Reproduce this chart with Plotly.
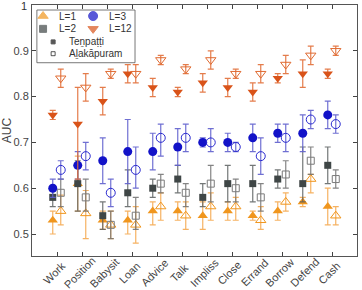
import plotly.graph_objects as go

categories = ["Work", "Position", "Babysit", "Loan", "Advice", "Talk", "Impliss",
              "Close", "Errand", "Borrow", "Defend", "Cash"]

# L=1
l1_t = [0.53, 0.61, 0.53, 0.53, 0.55, 0.55, 0.54, 0.55, 0.54, 0.55, 0.57, 0.56]
l1_t_lo = [0.50, 0.55, 0.51, 0.50, 0.52, 0.53, 0.51, 0.53, 0.53, 0.53, 0.56, 0.52]
l1_t_hi = [0.55, 0.67, 0.55, 0.55, 0.57, 0.57, 0.57, 0.57, 0.55, 0.57, 0.58, 0.60]
l1_a = [0.55, 0.545, 0.52, 0.52, 0.56, 0.54, 0.56, 0.56, 0.53, 0.57, 0.62, 0.54]
l1_a_lo = [0.52, 0.49, 0.49, 0.48, 0.53, 0.51, 0.53, 0.53, 0.51, 0.55, 0.59, 0.52]
l1_a_hi = [0.585, 0.595, 0.55, 0.56, 0.59, 0.57, 0.59, 0.58, 0.56, 0.59, 0.63, 0.56]

# L=2
l2_t = [0.58, 0.61, 0.54, 0.59, 0.60, 0.62, 0.58, 0.61, 0.61, 0.62, 0.61, 0.65]
l2_t_lo = [0.56, 0.55, 0.51, 0.56, 0.58, 0.59, 0.56, 0.57, 0.57, 0.60, 0.57, 0.61]
l2_t_hi = [0.60, 0.66, 0.57, 0.64, 0.62, 0.65, 0.61, 0.65, 0.65, 0.64, 0.69, 0.69]
l2_a = [0.59, 0.58, 0.52, 0.54, 0.61, 0.59, 0.61, 0.60, 0.58, 0.63, 0.66, 0.62]
l2_a_lo = [0.56, 0.55, 0.49, 0.51, 0.59, 0.56, 0.57, 0.57, 0.55, 0.60, 0.63, 0.60]
l2_a_hi = [0.62, 0.62, 0.55, 0.58, 0.63, 0.61, 0.65, 0.62, 0.61, 0.66, 0.69, 0.64]

# L=3
l3_t = [0.60, 0.65, 0.66, 0.68, 0.68, 0.69, 0.70, 0.70, 0.71, 0.72, 0.72, 0.76]
l3_t_lo = [0.58, 0.62, 0.61, 0.61, 0.64, 0.65, 0.69, 0.68, 0.68, 0.70, 0.68, 0.73]
l3_t_hi = [0.62, 0.68, 0.71, 0.75, 0.72, 0.73, 0.71, 0.72, 0.74, 0.74, 0.76, 0.79]
l3_a = [0.64, 0.67, 0.59, 0.64, 0.71, 0.71, 0.70, 0.69, 0.67, 0.71, 0.75, 0.74]
l3_a_lo = [0.62, 0.64, 0.56, 0.60, 0.67, 0.68, 0.68, 0.68, 0.63, 0.68, 0.73, 0.72]
l3_a_hi = [0.66, 0.70, 0.62, 0.69, 0.74, 0.74, 0.73, 0.70, 0.71, 0.74, 0.77, 0.76]

# L=12
l12_t = [0.76, 0.74, 0.79, 0.85, 0.82, 0.81, 0.83, 0.82, 0.81, 0.84, 0.85, 0.85]
l12_t_lo = [0.75, 0.62, 0.76, 0.83, 0.80, 0.80, 0.81, 0.80, 0.79, 0.83, 0.82, 0.84]
l12_t_hi = [0.77, 0.82, 0.82, 0.87, 0.84, 0.82, 0.85, 0.84, 0.83, 0.85, 0.88, 0.86]
l12_a = [0.84, 0.82, 0.85, 0.85, 0.88, 0.86, 0.88, 0.85, 0.85, 0.87, 0.89, 0.90]
l12_a_lo = [0.82, 0.79, 0.84, 0.83, 0.87, 0.85, 0.86, 0.84, 0.83, 0.85, 0.87, 0.89]
l12_a_hi = [0.86, 0.85, 0.86, 0.87, 0.89, 0.87, 0.90, 0.86, 0.87, 0.89, 0.91, 0.91]

yticks = [0.5, 0.6, 0.7, 0.8, 0.9, 1.0]
ytick_text = ["0.5", "0.6", "0.7", "0.8", "0.9", "1"]

FONT = "Liberation Sans, Arial, sans-serif"
xpos = list(range(1, len(categories) + 1))
OFF_T = -0.17
OFF_A = 0.15

series = [
    # (vals, lo, hi, offset, symbol, color, errcolor, size, open)
    (l1_t, l1_t_lo, l1_t_hi, OFF_T, "triangle-up", "#F0961E", "rgba(244,165,70,0.85)", 9, False),
    (l1_a, l1_a_lo, l1_a_hi, OFF_A, "triangle-up-open", "#F0961E", "rgba(244,165,70,0.85)", 9, True),
    (l2_t, l2_t_lo, l2_t_hi, OFF_T, "square", "#3F4646", "rgba(90,95,95,0.85)", 7, False),
    (l2_a, l2_a_lo, l2_a_hi, OFF_A, "square-open", "#7A7A7A", "rgba(110,110,110,0.85)", 7, True),
    (l3_t, l3_t_lo, l3_t_hi, OFF_T, "circle", "#1212C8", "rgba(95,95,205,0.9)", 9, False),
    (l3_a, l3_a_lo, l3_a_hi, OFF_A, "circle-open", "#2A2AD0", "rgba(95,95,205,0.9)", 9, True),
    (l12_t, l12_t_lo, l12_t_hi, OFF_T, "triangle-down", "#D95319", "rgba(225,110,55,0.9)", 9, False),
    (l12_a, l12_a_lo, l12_a_hi, OFF_A, "triangle-down-open", "#E06A30", "rgba(225,110,55,0.9)", 9, True),
]

fig = go.Figure()
for vals, lo, hi, off, sym, col, ecol, size, is_open in series:
    fig.add_trace(go.Scatter(
        x=[p + off for p in xpos], y=vals, mode="markers",
        marker=dict(symbol=sym, size=size, color=col,
                    line=dict(color=col, width=1 if is_open else 0)),
        error_y=dict(type="data", symmetric=False,
                     array=[h - v for h, v in zip(hi, vals)],
                     arrayminus=[v - l for v, l in zip(vals, lo)],
                     color=ecol, thickness=1.2, width=3),
        showlegend=False, hoverinfo="skip"))

# Legend (drawn on overlay axes with unit range)
leg_sym_x = [0.034, 0.188, 0.034, 0.188, 0.065, 0.065]
leg_sym_y = [0.956, 0.956, 0.905, 0.905, 0.853, 0.806]
leg_syms = ["triangle-up", "circle", "square", "triangle-down", "square", "square-open"]
leg_cols = ["#F0961E", "#1212C8", "#3F4646", "#D95319", "#111111", "#111111"]
leg_sizes = [9, 9, 7, 9, 4, 4]
leg_text = ["L=1", "L=3", "L=2", "L=12", "Teṉpaṭṭi", "Aḻakāpuram"]
leg_text_x = [0.077, 0.231, 0.077, 0.231, 0.108, 0.108]

fig.add_trace(go.Scatter(
    x=leg_sym_x, y=leg_sym_y, mode="markers", xaxis="x2", yaxis="y2",
    marker=dict(symbol=leg_syms, size=leg_sizes, color=leg_cols,
                line=dict(color=leg_cols, width=1)),
    showlegend=False, hoverinfo="skip"))

annotations = []
for tx, ty, t in zip(leg_text_x, leg_sym_y, leg_text):
    annotations.append(dict(x=tx, y=ty, xref="paper", yref="paper", text=t,
                            showarrow=False, xanchor="left", yanchor="middle",
                            font=dict(family=FONT, size=10, color="#333333")))

# rotated category labels
for p, c in zip(xpos, categories):
    annotations.append(dict(x=p, y=-0.066, xref="x", yref="paper", text=c,
                            showarrow=False, textangle=-45, xanchor="center",
                            yanchor="middle", xshift=-3,
                            font=dict(family=FONT, size=11, color="#444444")))

# top y tick label written explicitly, kept fully inside the figure
annotations.append(dict(x=0, y=1, xref="paper", yref="paper", text=ytick_text[-1],
                        showarrow=False, xanchor="right", yanchor="middle", xshift=-3,
                        yshift=-1, font=dict(family=FONT, size=11, color="#333333")))
ytick_labels = ytick_text[:-1] + [""]

shapes = [dict(type="rect", xref="paper", yref="paper", x0=0.015, x1=0.317,
               y0=0.77, y1=0.98, line=dict(color="#555555", width=0.8),
               fillcolor="white", layer="below")]

fig.update_layout(
    width=362, height=290,
    margin=dict(l=32, r=5, t=5, b=34),
    paper_bgcolor="white", plot_bgcolor="white",
    font=dict(family=FONT, size=11, color="#444444"),
    xaxis=dict(range=[0, 13], tickmode="array", tickvals=xpos, showticklabels=False,
               ticks="inside", ticklen=4, tickcolor="#444444",
               showline=True, linecolor="#555555", linewidth=1, mirror="ticks",
               showgrid=False, zeroline=False, automargin=False),
    yaxis=dict(range=[0.452, 1.0], tickmode="array", tickvals=yticks, ticktext=ytick_labels,
               ticks="inside", ticklen=4, tickcolor="#444444",
               showline=True, linecolor="#555555", linewidth=1, mirror="ticks",
               showgrid=False, zeroline=False, automargin=False,
               title=dict(text="AUC", standoff=2, font=dict(size=12, color="#444444")),
               tickfont=dict(size=11, color="#444444")),
    xaxis2=dict(range=[0, 1], overlaying="x", visible=False, fixedrange=True),
    yaxis2=dict(range=[0, 1], overlaying="y", visible=False, fixedrange=True),
    annotations=annotations,
    shapes=shapes,
    showlegend=False,
)

fig.write_html("out.html")
